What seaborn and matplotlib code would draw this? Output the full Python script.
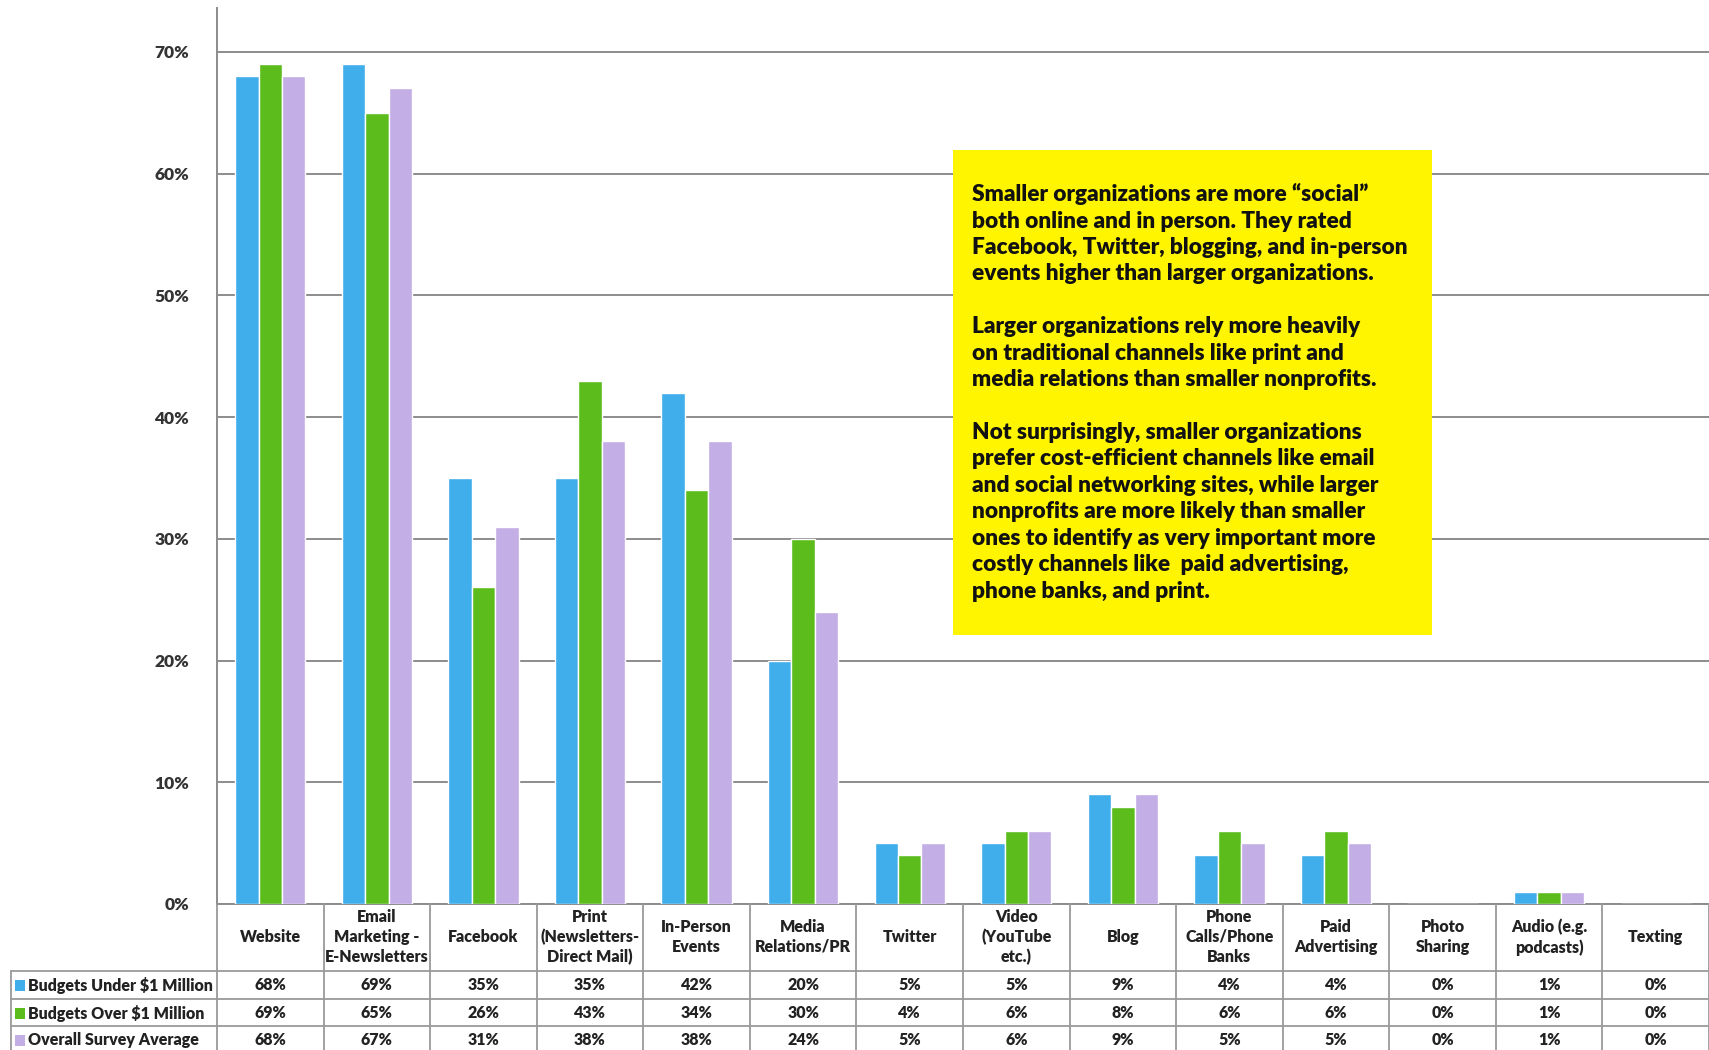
import pandas as pd
import matplotlib.pyplot as plt
import seaborn as sns
from matplotlib.lines import Line2D
from matplotlib.patches import Rectangle
from matplotlib.transforms import blended_transform_factory

# Data
channels = ['Website', 'Email\nMarketing -\nE-Newsletters', 'Facebook',
            'Print\n(Newsletters-\nDirect Mail)', 'In-Person\nEvents', 'Media\nRelations/PR',
            'Twitter', 'Video\n(YouTube\netc.)', 'Blog', 'Phone\nCalls/Phone\nBanks',
            'Paid\nAdvertising', 'Photo\nSharing', 'Audio (e.g.\npodcasts)', 'Texting']
groups = ['Budgets Under \\$1 Million', 'Budgets Over \\$1 Million', 'Overall Survey Average']
under_1m = [68, 69, 35, 35, 42, 20, 5, 5, 9, 4, 4, 0, 1, 0]
over_1m = [69, 65, 26, 43, 34, 30, 4, 6, 8, 6, 6, 0, 1, 0]
overall = [68, 67, 31, 38, 38, 24, 5, 6, 9, 5, 5, 0, 1, 0]
y_ticks = [0, 10, 20, 30, 40, 50, 60, 70]

note = ("Smaller organizations are more \u201csocial\u201d\n"
        "both online and in person. They rated\n"
        "Facebook, Twitter, blogging, and in-person\n"
        "events higher than larger organizations.\n"
        "\n"
        "Larger organizations rely more heavily\n"
        "on traditional channels like print and\n"
        "media relations than smaller nonprofits.\n"
        "\n"
        "Not surprisingly, smaller organizations\n"
        "prefer cost-efficient channels like email\n"
        "and social networking sites, while larger\n"
        "nonprofits are more likely than smaller\n"
        "ones to identify as very important more\n"
        "costly channels like  paid advertising,\n"
        "phone banks, and print.")

series = [under_1m, over_1m, overall]
colors = ['#3FAEEA', '#5CBC1C', '#C3AEE6']

rows = []
for g, vals in zip(groups, series):
    for c, v in zip(channels, vals):
        rows.append({'channel': c, 'group': g, 'value': v})
df = pd.DataFrame(rows)

sns.set_theme(style='white')
plt.rcParams['font.family'] = ['Lato', 'DejaVu Sans']
plt.rcParams['font.weight'] = 'heavy'

W, H = 1709, 1050
fig = plt.figure(figsize=(W / 100, H / 100), dpi=100)

def fx(px):
    return px / W

def fy(py):
    return 1 - py / H

ax_left, ax_right, ax_top, ax_bot = 217, 1709, 8, 904
ax = fig.add_axes([fx(ax_left), fy(ax_bot), fx(ax_right - ax_left), (ax_bot - ax_top) / H])

sns.barplot(data=df, x='channel', y='value', hue='group', palette=colors,
            saturation=1, width=0.66, ax=ax, legend=False, zorder=3)

ax.set_xlim(-0.5, len(channels) - 0.5)
ax.set_ylim(0, 73.6)
ax.set_yticks(y_ticks)
ax.set_yticklabels([f'{t}%' for t in y_ticks], fontsize=12.5, fontweight='heavy', color='#333333')
ax.tick_params(axis='y', length=0, pad=20)
ax.set_xticks([])
ax.set_xlabel('')
ax.set_ylabel('')
ax.yaxis.grid(True, color='#8C8C8C', linewidth=1.4)
ax.set_axisbelow(True)
for s in ['top', 'right']:
    ax.spines[s].set_visible(False)
for s in ['left', 'bottom']:
    ax.spines[s].set_color('#8C8C8C')
    ax.spines[s].set_linewidth(1.4)

# yellow note box
fig.add_artist(Rectangle((fx(953), fy(635)), fx(1432 - 953), (635 - 150) / H,
                         transform=fig.transFigure, facecolor='#FFF500',
                         edgecolor='none', zorder=5))
fig.text(fx(972), fy(183), note, ha='left', va='top', fontsize=16.3,
         fontweight='heavy', color='#111111', linespacing=1.32, zorder=6)

# data table under the chart
tx = blended_transform_factory(ax.transData, fig.transFigure)
line_kw = dict(color='#9A9A9A', linewidth=1.3, zorder=1)
row_y = [971, 999, 1026]
for i in range(len(channels) + 1):
    fig.add_artist(Line2D([i - 0.5, i - 0.5], [fy(904), fy(H)], transform=tx, **line_kw))
for yy in row_y:
    fig.add_artist(Line2D([fx(11), 1.0], [fy(yy), fy(yy)], transform=fig.transFigure, **line_kw))
fig.add_artist(Line2D([fx(11), fx(11)], [fy(971), fy(H)], transform=fig.transFigure, **line_kw))

for i, c in enumerate(channels):
    fig.text(i, fy(937), c, transform=tx, ha='center', va='center', fontsize=11.5,
             fontweight='heavy', color='#222222', linespacing=1.3)

row_centers = [985.5, 1013, 1040]
for g, vals, col, yc in zip(groups, series, colors, row_centers):
    fig.add_artist(Rectangle((fx(15), fy(yc + 5.5)), fx(10), 11 / H,
                             transform=fig.transFigure, facecolor=col, edgecolor='none'))
    fig.text(fx(28), fy(yc), g, ha='left', va='center', fontsize=11.5,
             fontweight='heavy', color='#222222')
    for i, v in enumerate(vals):
        fig.text(i, fy(yc), f'{v}%', transform=tx, ha='center', va='center',
                 fontsize=11.5, fontweight='heavy', color='#222222')

fig.savefig('out.png', dpi=100, facecolor='white')
